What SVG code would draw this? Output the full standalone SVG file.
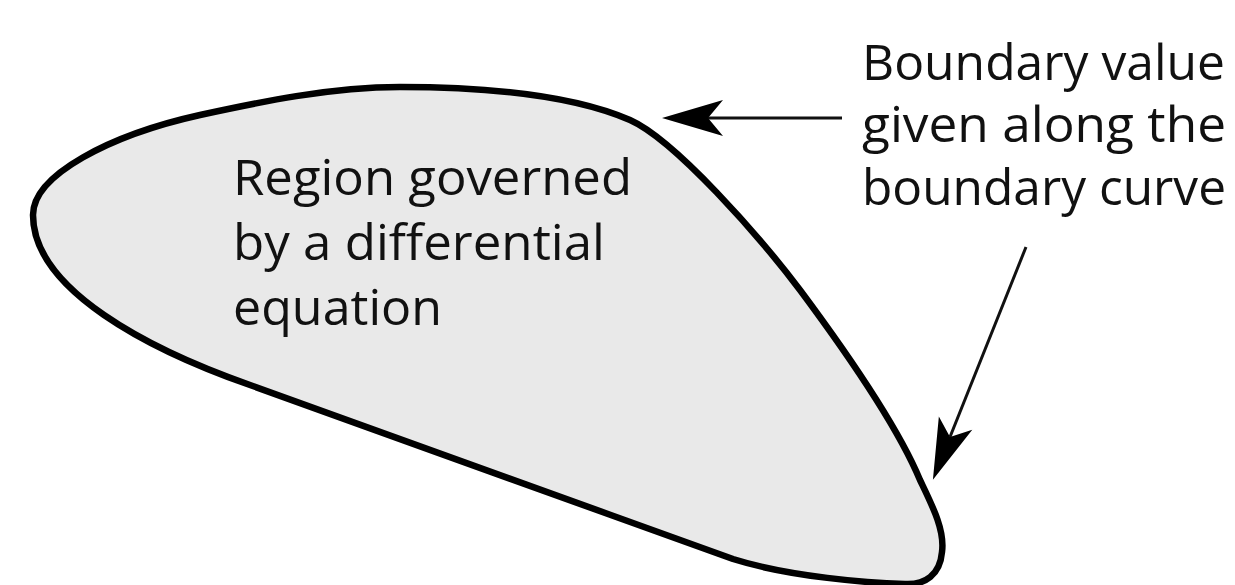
<svg xmlns="http://www.w3.org/2000/svg" width="1235" height="585" viewBox="0 0 1235 585">
  <style>
    .lbl { font-family: "Open Sans", "Liberation Sans", sans-serif; font-size: 50px; fill: #111; }
    .conn { stroke: #111; stroke-width: 3; fill: none; }
    .blob { fill: #e9e9e9; stroke: #000; stroke-width: 6.5; stroke-linejoin: round; }
  </style>
  <defs>
    <marker id="ah" markerUnits="userSpaceOnUse" viewBox="-16 -19 64 38" markerWidth="64" markerHeight="38" refX="0" refY="0" orient="auto">
      <path d="M46,0 L-15,-18 L0,0 L-15,18 Z" fill="#000"/>
    </marker>
  </defs>
  <g id="region">
    <path class="blob" d="M33,215 C33,175 110,135 200,115 C260,102 330,87 400,87 C480,87 570,94 630,120 C675,140 760,237 800,290 C835,337 895,420 920,480 C932,505 945,530 942,552 C940,575 925,585 905,584 C870,583 790,577 733,559 C570,500 400,440 250,385 C150,350 33,290 33,215 Z"/>
    <text class="lbl" x="233" y="195" textLength="399" lengthAdjust="spacingAndGlyphs">Region governed</text>
    <text class="lbl" x="233" y="260" textLength="372" lengthAdjust="spacingAndGlyphs">by a differential</text>
    <text class="lbl" x="233" y="325" textLength="209" lengthAdjust="spacingAndGlyphs">equation</text>
  </g>
  <g id="boundary-label">
    <text class="lbl" x="862" y="80" textLength="363" lengthAdjust="spacingAndGlyphs">Boundary value</text>
    <text class="lbl" x="862" y="142" textLength="364" lengthAdjust="spacingAndGlyphs">given along the</text>
    <text class="lbl" x="862" y="205" textLength="364" lengthAdjust="spacingAndGlyphs">boundary curve</text>
  </g>
  <g id="connectors">
    <line class="conn" x1="842" y1="118" x2="708" y2="118" marker-end="url(#ah)"/>
    <line class="conn" x1="1026" y1="247" x2="950" y2="437" marker-end="url(#ah)"/>
  </g>
</svg>
